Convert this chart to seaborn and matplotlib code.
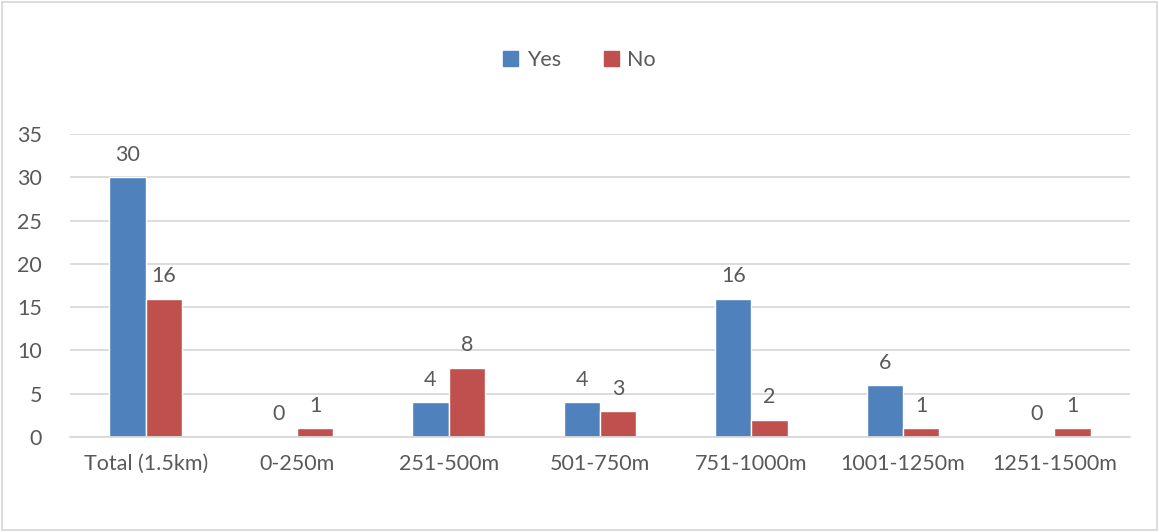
import pandas as pd
import numpy as np
import seaborn as sns
import matplotlib.pyplot as plt
from matplotlib.patches import Rectangle

# distance bands and counts
categories = ["Total (1.5km)", "0-250m", "251-500m", "501-750m",
              "751-1000m", "1001-1250m", "1251-1500m"]
yes_counts = [30, 0, 4, 4, 16, 6, 0]
no_counts = [16, 1, 8, 3, 2, 1, 1]
series = ["Yes", "No"]
colors = ["#4F81BD", "#C0504D"]

df = pd.DataFrame({
    "category": categories * 2,
    "count": yes_counts + no_counts,
    "answer": ["Yes"] * len(categories) + ["No"] * len(categories),
})

sns.set_style("white")
plt.rcParams["font.family"] = ["Lato", "DejaVu Sans"]
txt = "#595959"
grid = "#D9D9D9"
fs = 15.5

fig = plt.figure(figsize=(11.59, 5.32), dpi=100)
ax = fig.add_axes([0.0604, 0.1786, 0.9146, 0.5694])

sns.barplot(data=df, x="category", y="count", hue="answer", hue_order=series,
            palette=colors, width=0.48, saturation=1, ax=ax, legend=False)

for cont in ax.containers:
    ax.bar_label(cont, fmt="%d", padding=9, color=txt, fontsize=fs)

ax.set_ylim(0, 35)
ax.set_yticks(range(0, 36, 5))
ax.set_xlim(-0.5, len(categories) - 0.5)
ax.yaxis.grid(True, color=grid, linewidth=1.3)
ax.set_axisbelow(True)
for s in ["left", "right", "top"]:
    ax.spines[s].set_visible(False)
ax.spines["bottom"].set_color(grid)
ax.spines["bottom"].set_linewidth(1.3)
ax.tick_params(axis="both", length=0, labelsize=fs, labelcolor=txt)
ax.tick_params(axis="x", pad=12)
ax.tick_params(axis="y", pad=20)
ax.set_xlabel("")
ax.set_ylabel("")

handles = [Rectangle((0, 0), 1, 1, color=c) for c in colors]
fig.legend(handles, series, loc="center", bbox_to_anchor=(0.5, 0.888), ncol=2,
           frameon=False, fontsize=fs, labelcolor=txt, handlelength=0.7,
           handleheight=0.7, handletextpad=0.4, columnspacing=2.0)

fig.patches.append(Rectangle((0.002, 0.003), 0.996, 0.994, transform=fig.transFigure,
                             fill=False, edgecolor=grid, linewidth=1.3))

fig.savefig("out.png", dpi=100)
